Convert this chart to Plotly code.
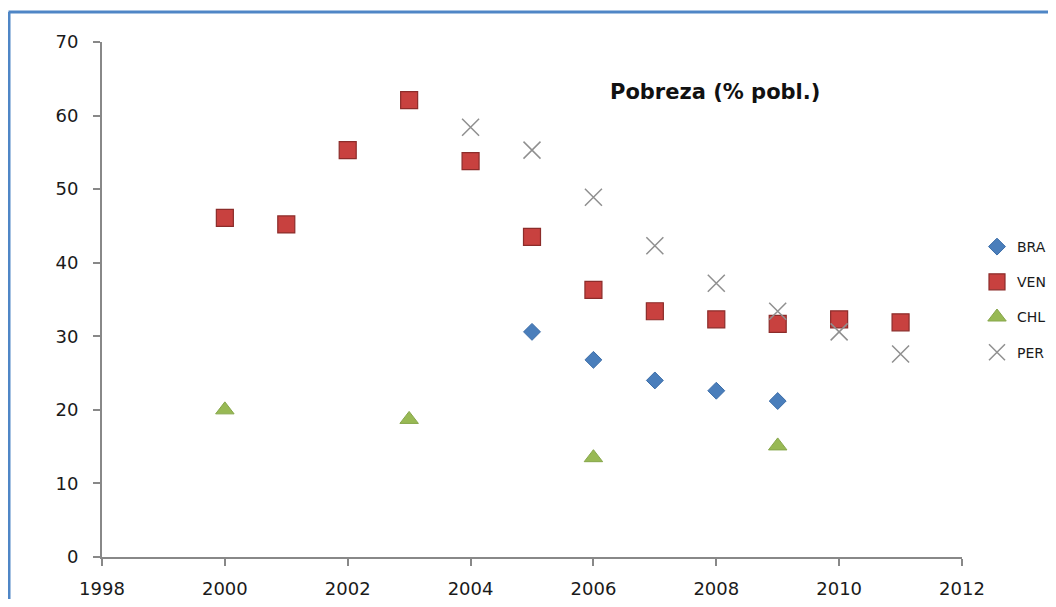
import plotly.graph_objects as go

bra_years = [2005, 2006, 2007, 2008, 2009]
bra_values = [30.6, 26.8, 24.0, 22.6, 21.2]

ven_years = [2000, 2001, 2002, 2003, 2004, 2005, 2006, 2007, 2008, 2009, 2010, 2011]
ven_values = [46.1, 45.2, 55.3, 62.1, 53.8, 43.5, 36.3, 33.4, 32.3, 31.7, 32.3, 31.9]

chl_years = [2000, 2003, 2006, 2009]
chl_values = [20.0, 18.7, 13.5, 15.1]

per_years = [2004, 2005, 2006, 2007, 2008, 2009, 2010, 2011]
per_values = [58.4, 55.3, 48.9, 42.3, 37.2, 33.4, 30.6, 27.6]

x_ticks = [1998, 2000, 2002, 2004, 2006, 2008, 2010, 2012]
y_ticks = [0, 10, 20, 30, 40, 50, 60, 70]

FONT = "DejaVu Sans"
TXT = "#1A1A1A"

W, H = 1040, 591
L, R, T, B = 94, 86, 34, 42
PW, PH = W - L - R, H - T - B

fig = go.Figure()
fig.add_trace(go.Scatter(x=bra_years, y=bra_values, mode="markers", name="BRA", legendgroup="a",
                         marker=dict(symbol="diamond", size=13, color="#4A7EBB",
                                     line=dict(color="#3C6DA8", width=1))))
fig.add_trace(go.Scatter(x=ven_years, y=ven_values, mode="markers", name="VEN", legendgroup="b",
                         marker=dict(symbol="square", size=17, color="#C8413F",
                                     line=dict(color="#8C2C2A", width=1.2))))
fig.add_trace(go.Scatter(x=chl_years, y=chl_values, mode="markers", name="CHL", legendgroup="c",
                         marker=dict(symbol="triangle-up", size=16, color="#98B954",
                                     line=dict(color="#86A64A", width=1))))
fig.add_trace(go.Scatter(x=per_years, y=per_values, mode="markers", name="PER", legendgroup="d",
                         marker=dict(symbol="x-thin-open", size=17, color="#8F8F8F",
                                     line=dict(color="#8F8F8F", width=1.5))))

axis_common = dict(showgrid=False, zeroline=False, showline=True, linecolor="#888888", linewidth=1.8,
                   ticks="outside", ticklen=7, tickcolor="#888888", tickwidth=1.5, automargin=False,
                   tickfont=dict(family=FONT, size=18, color=TXT))

fig.update_layout(
    width=W, height=H,
    margin=dict(l=L, r=R, t=T, b=B, autoexpand=False),
    paper_bgcolor="white", plot_bgcolor="white",
    font=dict(family=FONT, size=14, color=TXT),
    showlegend=True,
    legend=dict(xref="container", yref="container", x=969 / W, y=1 - 223 / H,
                xanchor="left", yanchor="top",
                font=dict(family=FONT, size=14, color=TXT),
                tracegroupgap=14, itemwidth=30, bgcolor="rgba(0,0,0,0)"),
    xaxis=dict(range=[1998, 2012], tickmode="array", tickvals=x_ticks,
               ticktext=[str(v) for v in x_ticks], ticklabelstandoff=7, **axis_common),
    yaxis=dict(range=[0, 70], tickmode="array", tickvals=y_ticks,
               ticktext=[str(v) for v in y_ticks], ticklabelstandoff=11, **axis_common),
    annotations=[dict(text="<b>Pobreza (% pobl.)</b>", xref="paper", yref="paper",
                      x=(707 - L) / PW, y=(H - B - 84) / PH, xanchor="center", yanchor="middle",
                      showarrow=False, font=dict(family=FONT, size=21, color="#111111"))],
    shapes=[
        dict(type="line", xref="paper", yref="paper", x0=(0.5 - L) / PW, x1=(0.5 - L) / PW,
             y0=-0.2, y1=(H - B - 4) / PH, line=dict(color="#4F86C6", width=4)),
        dict(type="line", xref="paper", yref="paper", x0=(0.5 - L) / PW, x1=1.3,
             y0=(H - B - 4) / PH, y1=(H - B - 4) / PH, line=dict(color="#4F86C6", width=3)),
    ],
)

fig.write_html("out.html")
